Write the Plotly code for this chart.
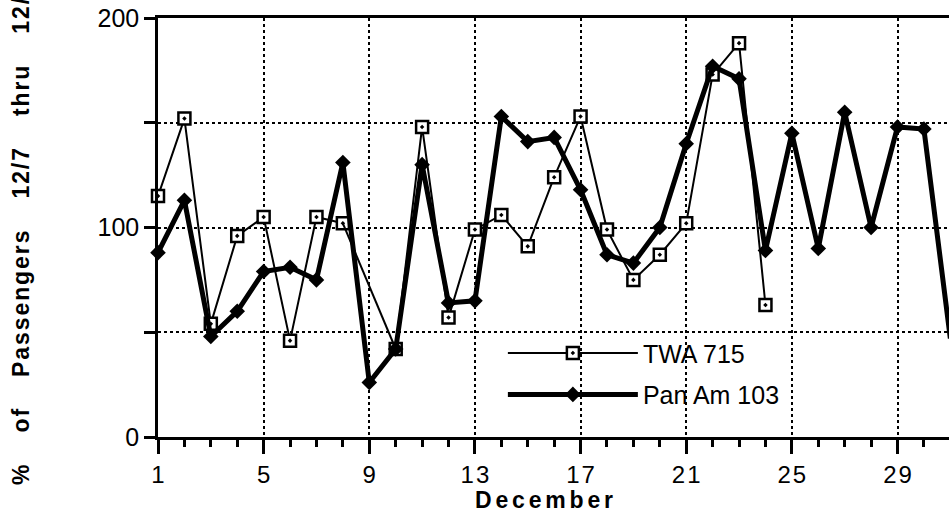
import plotly.graph_objects as go

days = list(range(1, 32))
twa_715 = [115, 152, 54, 96, 105, 46, 105, 102, None, 42, 148, 57, 99, 106, 91, 124,
           153, 99, 75, 87, 102, 173, 188, 63, None, None, None, None, None, None, None]
pan_am_103 = [88, 113, 48, 60, 79, 81, 75, 131, 26, 42, 130, 64, 65, 153, 141, 143,
              118, 87, 83, 100, 140, 177, 171, 89, 145, 90, 155, 100, 148, 147, 47]
x_tick_vals = [1, 5, 9, 13, 17, 21, 25, 29]
x_tick_text = ["1", "5", "9", "1\u200a3", "1\u200a7", "2\u200a1", "2\u200a5", "2\u200a9"]
y_tick_vals = [0, 50, 100, 150, 200]
y_tick_text = ["0", "", "100", "", "200"]

FONT = "Liberation Sans, Arial, Helvetica, sans-serif"

W, H = 949, 516
PL, PT, PB = 158, 18, 79

fig = go.Figure()
fig.add_trace(go.Scatter(
    x=days, y=twa_715, name="TWA 715", mode="lines+markers",
    legendgroup="a",
    connectgaps=False,
    line=dict(color="black", width=2),
    marker=dict(symbol="square-dot", size=12, color="white",
                line=dict(color="black", width=2.5)),
    cliponaxis=False,
))
# TWA line bridging the missing day-9 value
fig.add_trace(go.Scatter(
    x=days[7:10], y=twa_715[7:10], mode="lines", connectgaps=True,
    line=dict(color="black", width=2), showlegend=False, hoverinfo="skip",
))
fig.add_trace(go.Scatter(
    x=days, y=pan_am_103, name="Pan Am 103", mode="lines+markers",
    legendgroup="b",
    line=dict(color="black", width=5),
    marker=dict(symbol="diamond", size=12, color="black"),
    cliponaxis=False,
))

fig.update_layout(
    width=W, height=H,
    margin=dict(l=PL, r=0, t=PT, b=PB, autoexpand=False),
    paper_bgcolor="white", plot_bgcolor="white",
    font=dict(family=FONT, color="black", size=22),
    showlegend=True,
    legend=dict(
        x=0.436, y=0.255, xanchor="left", yanchor="top",
        bgcolor="rgba(0,0,0,0)", borderwidth=0,
        font=dict(size=25, family=FONT),
        traceorder="grouped", tracegroupgap=6, itemwidth=130,
    ),
    xaxis=dict(
        range=[1, 30.95],
        tickmode="array", tickvals=x_tick_vals, ticktext=x_tick_text,
        ticks="outside", ticklen=14, tickwidth=2.5, tickcolor="black",
        minor=dict(dtick=1, tick0=1, ticks="outside", ticklen=7, tickwidth=2.5,
                   tickcolor="black", showgrid=False),
        showline=True, linecolor="black", linewidth=2.5, mirror=True,
        showgrid=True, gridcolor="black", gridwidth=2, griddash="dot",
        zeroline=False, ticklabeloverflow="allow",
        tickfont=dict(size=24, family=FONT),
    ),
    yaxis=dict(
        range=[0, 200],
        tickmode="array", tickvals=y_tick_vals, ticktext=y_tick_text,
        ticks="outside", ticklen=11, tickwidth=2.5, tickcolor="black",
        showline=True, linecolor="black", linewidth=2.5,
        showgrid=True, gridcolor="black", gridwidth=2, griddash="dot",
        zeroline=False, ticklabeloverflow="allow",
        tickfont=dict(size=25, family=FONT),
    ),
)


def spaced(w, sep):
    return sep.join(list(w))


ytitle = ("\u00a0" * 5).join(spaced(w, "\u200a") for w in
                             ["%", "of", "Passengers", "12/7", "thru", "12/21"])
fig.add_annotation(
    xref="paper", yref="paper", x=-0.173, y=-0.12,
    xanchor="center", yanchor="bottom", textangle=-90,
    text="<b>" + ytitle + "</b>", showarrow=False,
    font=dict(size=23, family=FONT),
)
fig.add_annotation(
    xref="paper", yref="paper", x=0.488, y=-0.15,
    xanchor="center", yanchor="middle",
    text="<b>" + spaced("December", "\u2006") + "</b>", showarrow=False,
    font=dict(size=23, family=FONT),
)

fig.write_html(
    "out.html",
    config={"displayModeBar": False},
    post_script="document.body.style.margin='0px';document.body.style.overflow='hidden';",
)
